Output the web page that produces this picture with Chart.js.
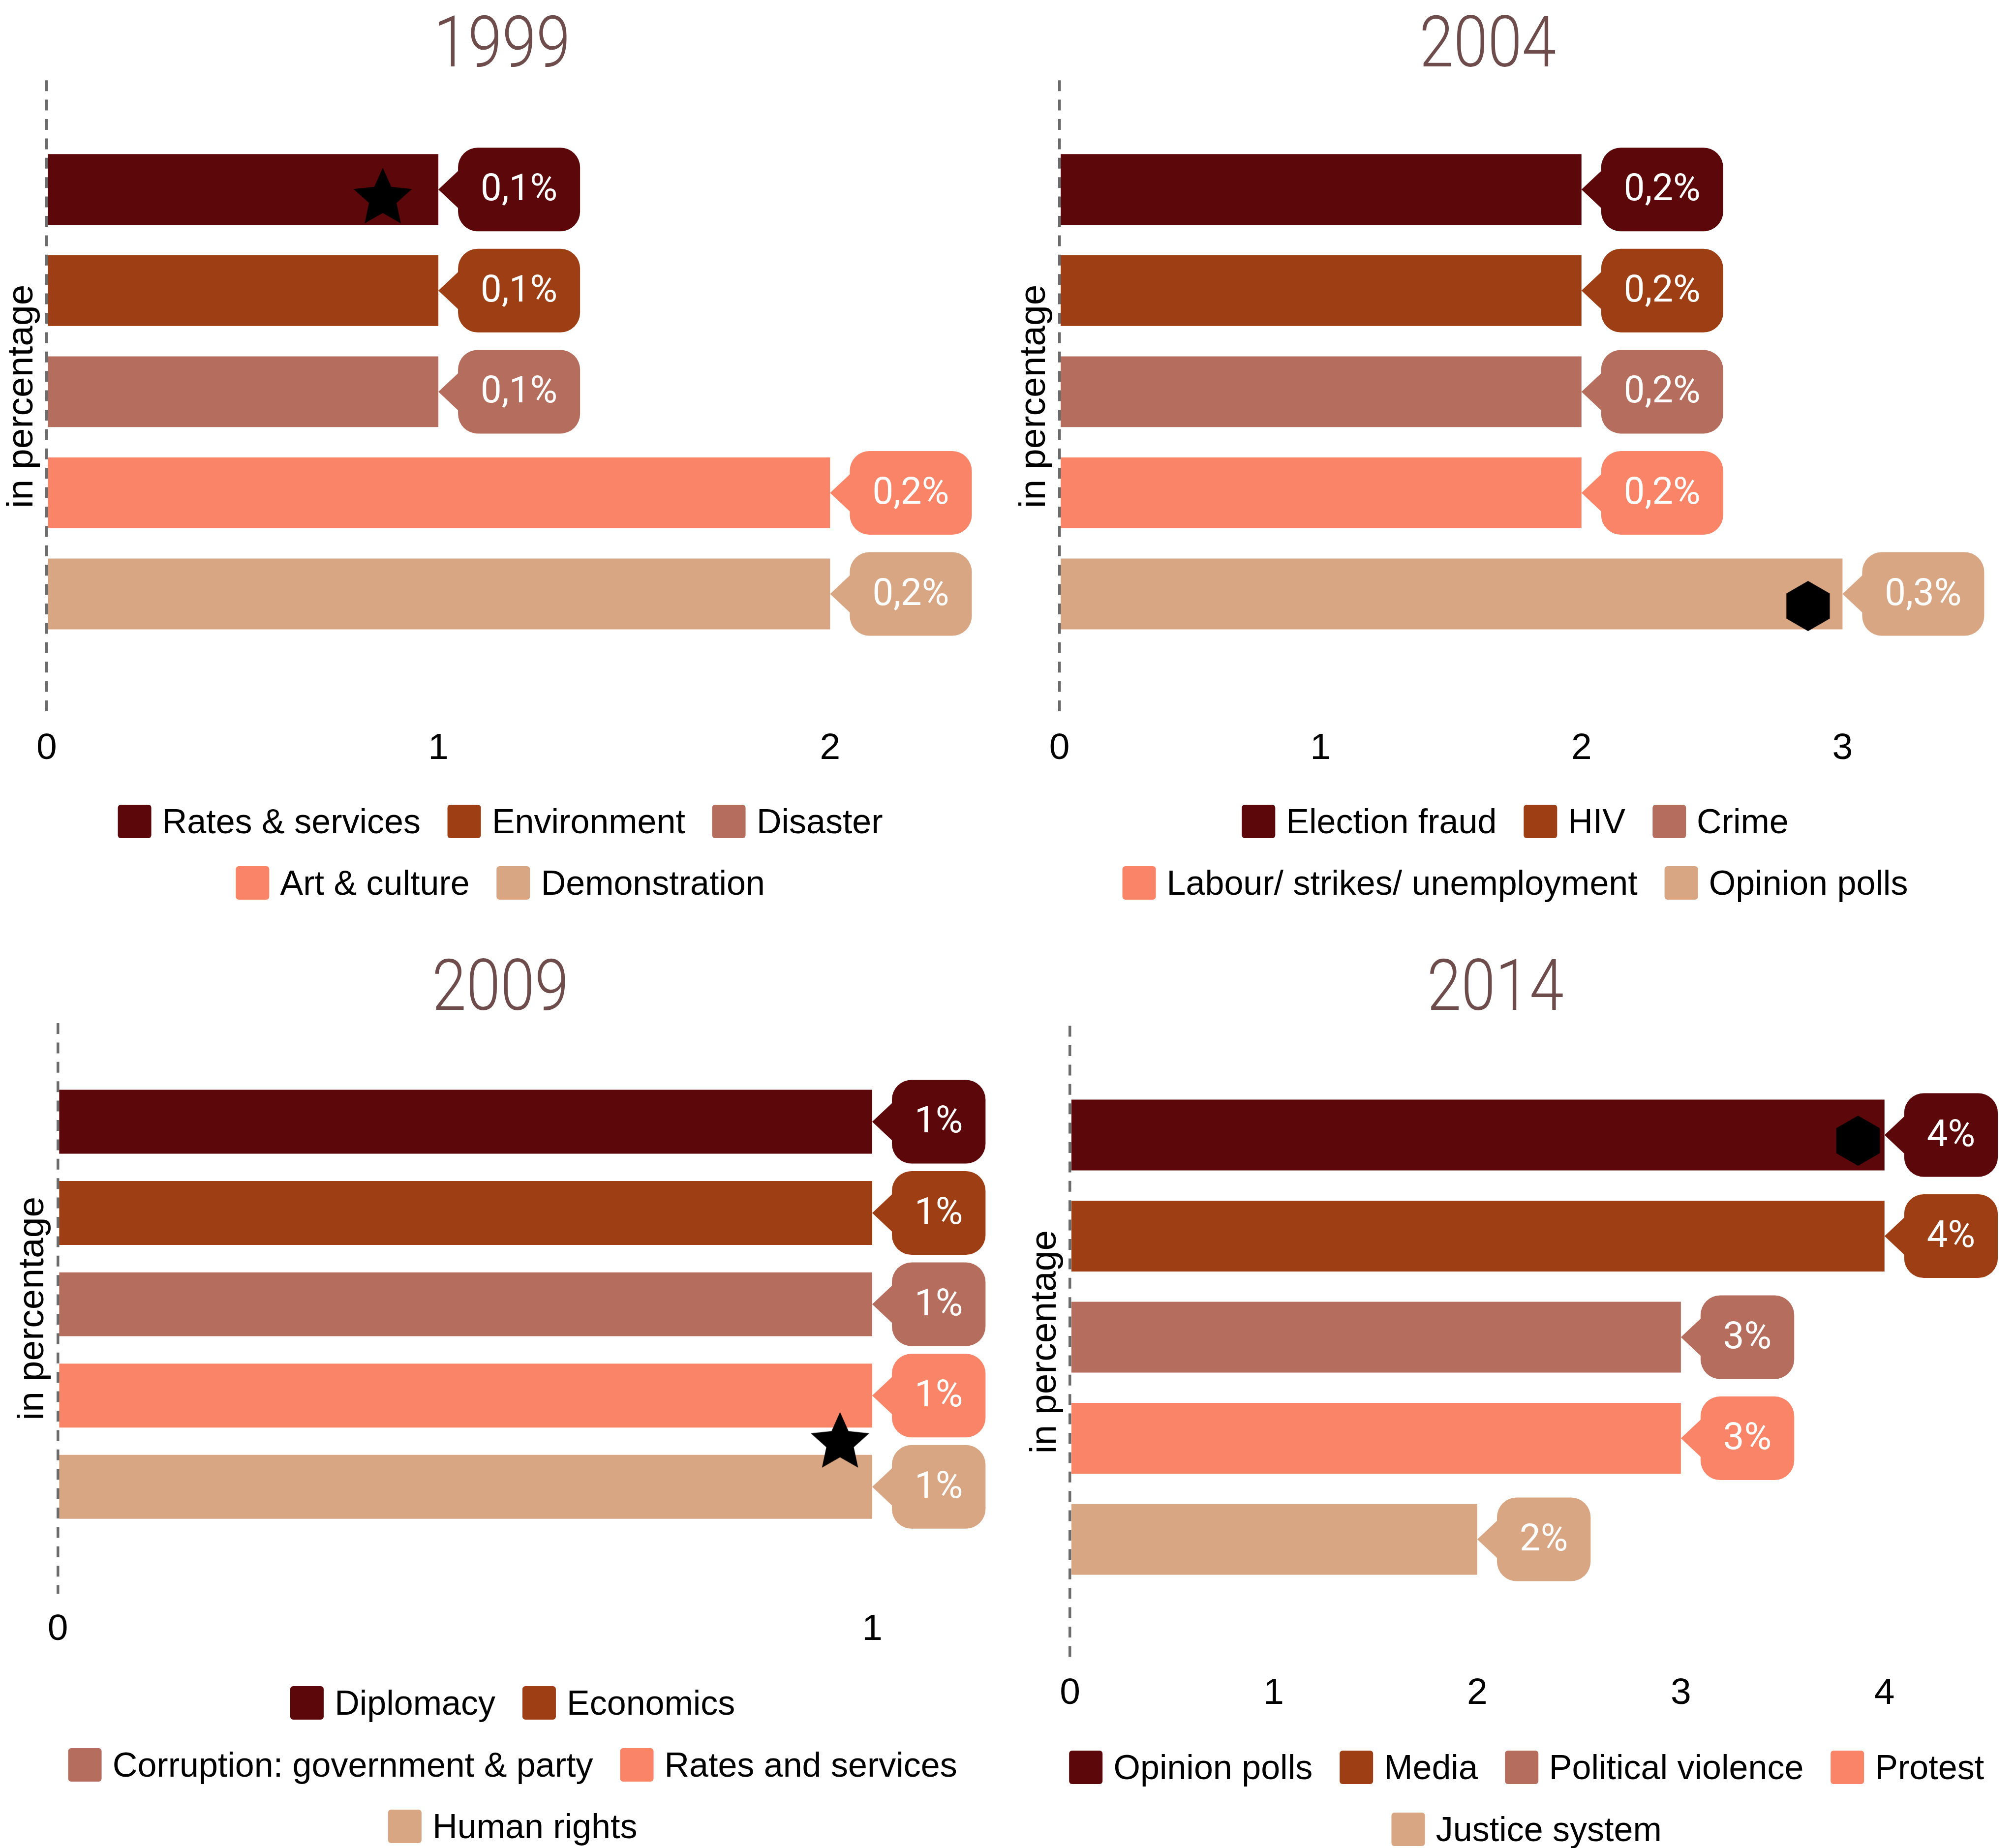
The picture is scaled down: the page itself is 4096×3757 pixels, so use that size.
<!DOCTYPE html>
<html>
<head>
<meta charset="utf-8">
<script src="https://cdn.jsdelivr.net/npm/chart.js@4.4.0/dist/chart.umd.min.js"></script>
<style>
  html, body { margin: 0; padding: 0; background: #fff; }
  #page { position: relative; width: 4096px; height: 3757px; overflow: hidden; background: #fff; }
  #page canvas { position: absolute; }
  .legend-row {
    position: absolute; display: flex; align-items: center; gap: 55px;
    transform: translate(-50%, -50%); white-space: nowrap;
    font-family: 'Liberation Sans', Arial, sans-serif; font-size: 70px; line-height: 1; color: #000;
  }
  .legend-item { display: flex; align-items: center; }
  .legend-box { width: 68px; height: 68px; border-radius: 6px; margin-right: 22px; }
</style>
</head>
<body>
<div id="page">
  <canvas id="c1999" width="2048" height="1600" style="left:0;top:0;width:2048px;height:1600px"></canvas>
  <canvas id="c2004" width="2048" height="1600" style="left:2048px;top:0;width:2048px;height:1600px"></canvas>
  <canvas id="c2009" width="2048" height="1897" style="left:0;top:1860px;width:2048px;height:1897px"></canvas>
  <canvas id="c2014" width="2048" height="1897" style="left:2048px;top:1860px;width:2048px;height:1897px"></canvas>
</div>
<script>
// ---- data ----
const cats1999 = ['Rates & services', 'Environment', 'Disaster', 'Art & culture', 'Demonstration'];
const values1999 = [1, 1, 1, 2, 2];
const labels1999 = ['0,1%', '0,1%', '0,1%', '0,2%', '0,2%'];

const cats2004 = ['Election fraud', 'HIV', 'Crime', 'Labour/ strikes/ unemployment', 'Opinion polls'];
const values2004 = [2, 2, 2, 2, 3];
const labels2004 = ['0,2%', '0,2%', '0,2%', '0,2%', '0,3%'];

const cats2009 = ['Diplomacy', 'Economics', 'Corruption: government & party', 'Rates and services', 'Human rights'];
const values2009 = [1, 1, 1, 1, 1];
const labels2009 = ['1%', '1%', '1%', '1%', '1%'];

const cats2014 = ['Opinion polls', 'Media', 'Political violence', 'Protest', 'Justice system'];
const values2014 = [4, 4, 3, 3, 2];
const labels2014 = ['4%', '4%', '3%', '3%', '2%'];

// marker positions (value, category index)
const marker1999 = { x: [0.858], y: [0.089], shape: 'star' };
const marker2004 = { x: [2.868], y: [4.119], shape: 'hex' };
const marker2009 = { x: [0.9605], y: [3.517], shape: 'star' };
const marker2014 = { x: [3.870], y: [0.056], shape: 'hex' };

const colors = ['#5c080b', '#9e3e14', '#b56e5e', '#f98467', '#d9a684'];

// ---- layout (px, canvas relative) ----
const layout1999 = { left: 94.8, right: 1946.2, top: 163.2, bottom: 1448.5, h: 1600, xMax: 2.325, titleBase: 135.3,
  legendX: 1017.2, legendY: [1669.9, 1795], rows: [3, 2] };
const layout2004 = { left: 105.5, right: 1847, top: 163.2, bottom: 1448.5, h: 1600, xMax: 3.282, titleBase: 135.3,
  legendX: 3080, legendY: [1669.9, 1795], rows: [3, 2] };
const layout2009 = { left: 117.6, right: 1917, top: 220, bottom: 1380.3, h: 1897, xMax: 1.087, titleBase: 193.4,
  legendX: 1042.3, legendY: [3461.9, 3587.6, 3713.3], rows: [2, 2, 1] };
const layout2014 = { left: 127.2, right: 1856.4, top: 225.6, bottom: 1510.4, h: 1897, xMax: 4.178, titleBase: 193.4,
  legendX: 3103.3, legendY: [3593, 3718.8], rows: [4, 1] };

const TICK_PAD = 28.4;
const AXIS_FONT = { family: "'Liberation Sans', Arial, sans-serif", size: 75 };

function makeStar(R, ratio) {
  const c = document.createElement('canvas');
  const s = Math.ceil(2 * R) + 4;
  c.width = c.height = s;
  const g = c.getContext('2d');
  g.translate(s / 2, s / 2);
  g.beginPath();
  for (let k = 0; k < 10; k++) {
    const r = k % 2 ? R * ratio : R;
    const a = -Math.PI / 2 + k * Math.PI / 5;
    g.lineTo(r * Math.cos(a), r * Math.sin(a));
  }
  g.closePath();
  g.fillStyle = '#000';
  g.fill();
  return c;
}

function makeHex(R) {
  const c = document.createElement('canvas');
  const s = Math.ceil(2 * R) + 4;
  c.width = c.height = s;
  const g = c.getContext('2d');
  g.translate(s / 2, s / 2);
  g.beginPath();
  for (let k = 0; k < 6; k++) {
    const a = -Math.PI / 2 + k * Math.PI / 3;
    g.lineTo(R * Math.cos(a), R * Math.sin(a));
  }
  g.closePath();
  g.fillStyle = '#000';
  g.fill();
  return c;
}

const starImg = makeStar(62.5, 0.47);
const hexImg = makeHex(51);

// value bubbles at the end of each bar
const calloutPlugin = {
  id: 'callouts',
  afterDatasetsDraw(chart, args, opts) {
    const meta = chart.getDatasetMeta(0);
    const ds = chart.data.datasets[0];
    const ctx = chart.ctx;
    ctx.save();
    ctx.font = '400 76px Roboto';
    ctx.textAlign = 'center';
    ctx.textBaseline = 'middle';
    meta.data.forEach((bar, i) => {
      const text = opts.labels[i];
      const w = ctx.measureText(text).width + 2 * 46;
      const x0 = bar.x + 40;
      const y = bar.y;
      ctx.fillStyle = ds.backgroundColor[i];
      ctx.beginPath();
      ctx.moveTo(bar.x, y);
      ctx.lineTo(x0 + 2, y - 39.5);
      ctx.lineTo(x0 + 2, y + 39.5);
      ctx.closePath();
      ctx.fill();
      ctx.beginPath();
      ctx.roundRect(x0, y - 85, w, 170, 40);
      ctx.fill();
      ctx.fillStyle = '#fff';
      ctx.fillText(text, x0 + w / 2, y + 3);
    });
    ctx.restore();
  }
};

// year heading, centred over the plot area
const yearTitle = {
  id: 'yearTitle',
  afterDraw(chart, args, opts) {
    const { ctx, chartArea } = chart;
    ctx.save();
    ctx.translate((chartArea.left + chartArea.right) / 2, opts.baseline);
    ctx.scale(0.87, 1);
    ctx.font = '300 144px Roboto';
    ctx.fillStyle = '#6e4c4c';
    ctx.textAlign = 'center';
    ctx.textBaseline = 'alphabetic';
    ctx.fillText(opts.text, 0, 0);
    ctx.restore();
  }
};

function makeLegend(cats, L) {
  const page = document.getElementById('page');
  let k = 0;
  L.rows.forEach((n, r) => {
    const row = document.createElement('div');
    row.className = 'legend-row';
    row.style.left = L.legendX + 'px';
    row.style.top = L.legendY[r] + 'px';
    for (let j = 0; j < n; j++, k++) {
      const item = document.createElement('div');
      item.className = 'legend-item';
      const box = document.createElement('span');
      box.className = 'legend-box';
      box.style.background = colors[k];
      const txt = document.createElement('span');
      txt.textContent = cats[k];
      item.appendChild(box);
      item.appendChild(txt);
      row.appendChild(item);
    }
    page.appendChild(row);
  });
}

function makePanel(id, year, cats, values, labels, marker, L) {
  const canvas = document.getElementById(id);
  const padL = Math.max(0, L.left - 95);
  const titlePadBottom = L.left - padL - 90;
  new Chart(canvas, {
    type: 'bar',
    data: {
      labels: cats,
      datasets: [
        {
          type: 'bar',
          data: values.map((v, i) => ({ x: v, y: i })),
          backgroundColor: colors,
          categoryPercentage: 1,
          barPercentage: 0.70,
          order: 1
        },
        {
          type: 'scatter',
          data: marker.x.map((x, i) => ({ x: x, y: marker.y[i] })),
          pointStyle: marker.shape === 'star' ? starImg : hexImg,
          pointRadius: 30,
          order: 0
        }
      ]
    },
    options: {
      indexAxis: 'y',
      responsive: false,
      animation: false,
      devicePixelRatio: 1,
      layout: {
        autoPadding: false,
        padding: { left: padL, right: canvas.width - L.right, top: L.top, bottom: L.h - L.bottom - (90 + 2 * TICK_PAD) }
      },
      scales: {
        x: {
          type: 'linear',
          min: 0,
          max: L.xMax,
          offset: false,
          ticks: { stepSize: 1, includeBounds: false, padding: TICK_PAD, color: '#000', font: AXIS_FONT },
          grid: {
            z: 1,
            offset: false,
            drawTicks: false,
            lineWidth: 5.5,
            color: (c) => (c.tick && c.tick.value === 0 ? 'rgba(0,0,0,0.58)' : 'rgba(0,0,0,0)')
          },
          border: { display: false, dash: [22, 17.4] }
        },
        y: {
          type: 'linear',
          min: -1.08,
          max: 5.172,
          offset: false,
          reverse: true,
          ticks: { display: false, stepSize: 1, includeBounds: false },
          grid: { display: false, drawTicks: false, offset: false },
          border: { display: false },
          title: {
            display: true,
            text: 'in percentage',
            color: '#000',
            font: AXIS_FONT,
            padding: { top: 0, bottom: titlePadBottom }
          }
        }
      },
      plugins: {
        legend: { display: false },
        tooltip: { enabled: false },
        callouts: { labels: labels },
        yearTitle: { text: year, baseline: L.titleBase }
      }
    },
    plugins: [calloutPlugin, yearTitle]
  });
  makeLegend(cats, L);
}

makePanel('c1999', '1999', cats1999, values1999, labels1999, marker1999, layout1999);
makePanel('c2004', '2004', cats2004, values2004, labels2004, marker2004, layout2004);
makePanel('c2009', '2009', cats2009, values2009, labels2009, marker2009, layout2009);
makePanel('c2014', '2014', cats2014, values2014, labels2014, marker2014, layout2014);
</script>
</body>
</html>
